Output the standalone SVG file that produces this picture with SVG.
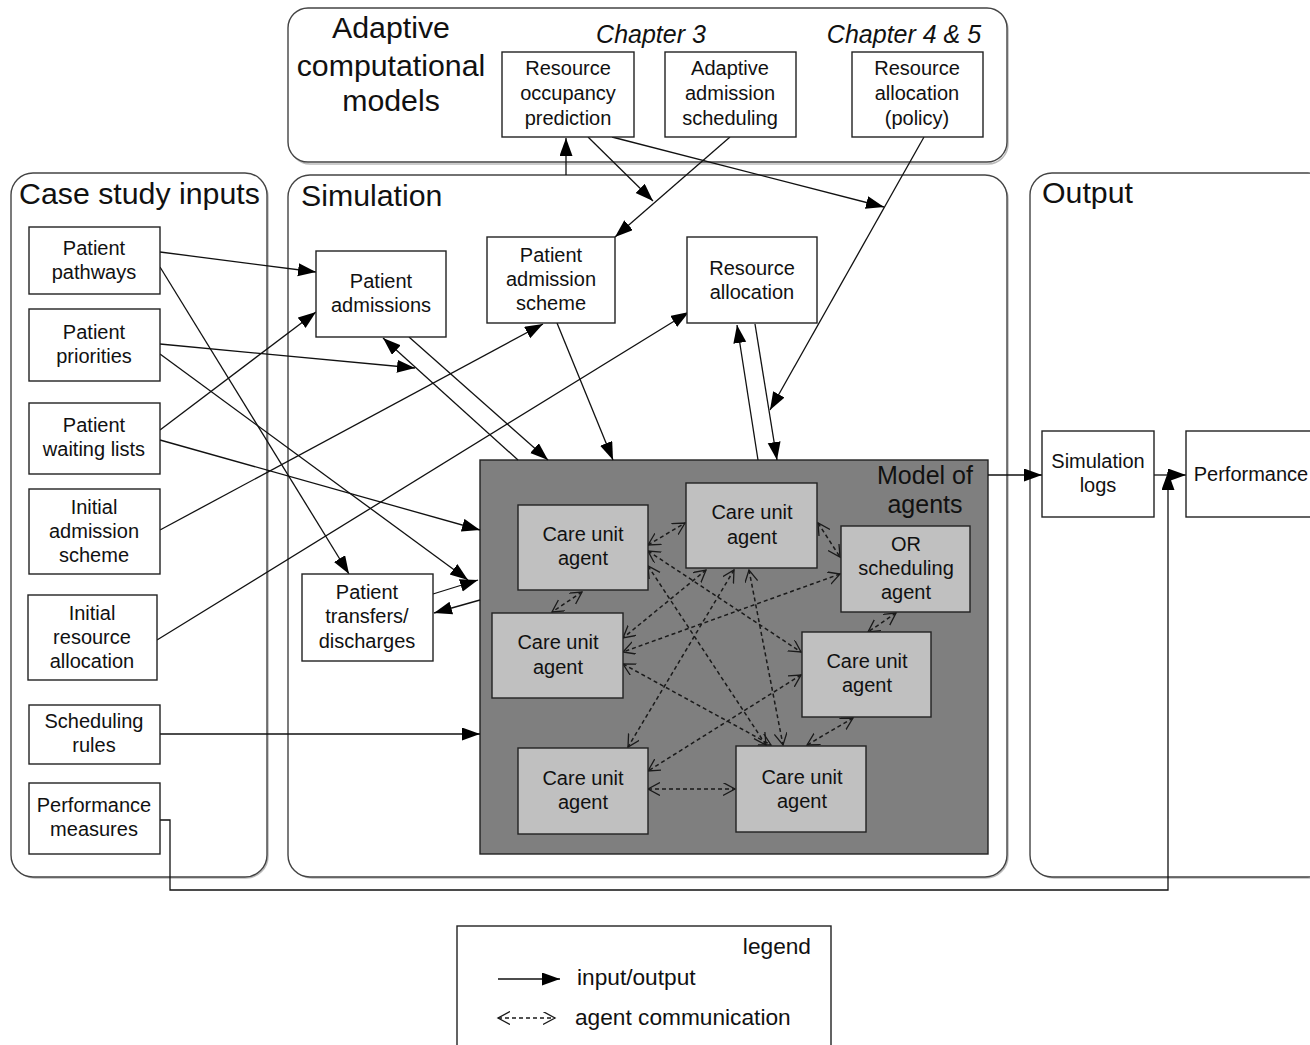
<svg xmlns="http://www.w3.org/2000/svg" width="1310" height="1045" viewBox="0 0 1310 1045">
<defs>
<marker id="ah" markerUnits="userSpaceOnUse" markerWidth="20" markerHeight="14" refX="18" refY="6.5" orient="auto">
<path d="M0,0 L18,6.5 L0,13 z" fill="#000"/>
</marker>
<marker id="oh" markerUnits="userSpaceOnUse" markerWidth="14" markerHeight="14" refX="12" refY="6.5" orient="auto-start-reverse">
<path d="M0,0 L12,6.5 L0,13" fill="none" stroke="#1a1a1a" stroke-width="1.3"/>
</marker>
<style>
.cont{fill:#fff;stroke:#444;stroke-width:1.4}
.contsh{fill:none;stroke:#bbb;stroke-width:1.5}
.box{fill:#fff;stroke:#222;stroke-width:1.4}
.agent{fill:#c0c0c0;stroke:#222;stroke-width:1.4}
.t{font-family:"Liberation Sans",Arial,sans-serif;font-size:20px;fill:#111;text-anchor:middle}
.title{font-family:"Liberation Sans",Arial,sans-serif;font-size:30.3px;fill:#111}
.ch{font-family:"Liberation Sans",Arial,sans-serif;font-size:25px;font-style:italic;fill:#111;text-anchor:middle}
.lg{font-family:"Liberation Sans",Arial,sans-serif;font-size:22.7px;fill:#111}
.io{fill:none;stroke:#111;stroke-width:1.3;marker-end:url(#ah)}
.ac{fill:none;stroke:#1a1a1a;stroke-width:1.5;stroke-dasharray:4 3;marker-start:url(#oh);marker-end:url(#oh)}
</style>
</defs>
<rect width="1310" height="1045" fill="#fff"/>

<g id="containers">
<g id="adaptive">
<rect class="contsh" x="290" y="10" width="718" height="154" rx="20"/>
<rect class="cont" x="288" y="8" width="719" height="154" rx="20"/>
<text class="title" x="391" y="38" text-anchor="middle">Adaptive</text>
<text class="title" x="391" y="76" text-anchor="middle">computational</text>
<text class="title" x="391" y="111" text-anchor="middle">models</text>
<text class="ch" x="651" y="43">Chapter 3</text>
<text class="ch" x="904" y="43">Chapter 4 &amp; 5</text>
</g>
<g id="case-study-inputs">
<rect class="contsh" x="13" y="175" width="255" height="703" rx="22"/>
<rect class="cont" x="11" y="173" width="256" height="704" rx="22"/>
<text class="title" x="19" y="204">Case study inputs</text>
</g>
<g id="simulation">
<rect class="contsh" x="290" y="177" width="718" height="701" rx="22"/>
<rect class="cont" x="288" y="175" width="719" height="702" rx="22"/>
<text class="title" x="301" y="206">Simulation</text>
</g>
<g id="output">
<rect class="contsh" x="1032" y="175" width="300" height="703" rx="22"/>
<rect class="cont" x="1030" y="173" width="300" height="704" rx="22"/>
<text class="title" x="1042" y="203">Output</text>
</g>
</g>

<g id="model-of-agents">
<rect x="480" y="460" width="508" height="394" fill="#7f7f7f" stroke="#222" stroke-width="1.4"/>
<text x="925" y="484" text-anchor="middle" font-family="Liberation Sans, Arial, sans-serif" font-size="25" fill="#111">Model of</text>
<text x="925" y="513" text-anchor="middle" font-family="Liberation Sans, Arial, sans-serif" font-size="25" fill="#111">agents</text>
</g>

<g id="connectors">
<line class="io" x1="566" y1="175" x2="566" y2="138"/>
<line class="io" x1="588" y1="137" x2="653" y2="201"/>
<line class="io" x1="612" y1="137" x2="884" y2="207"/>
<line class="io" x1="730" y1="137" x2="615" y2="237"/>
<line class="io" x1="924" y1="137" x2="770" y2="410"/>
<line class="io" x1="160" y1="252" x2="316" y2="272"/>
<line class="io" x1="160" y1="267" x2="349" y2="574"/>
<line class="io" x1="160" y1="344" x2="415" y2="368"/>
<line class="io" x1="160" y1="354" x2="468" y2="580"/>
<line class="io" x1="160" y1="430" x2="316" y2="312"/>
<line class="io" x1="160" y1="440" x2="480" y2="530"/>
<line class="io" x1="160" y1="530" x2="543" y2="324"/>
<line class="io" x1="157" y1="640" x2="689" y2="312"/>
<line class="io" x1="160" y1="734" x2="480" y2="734"/>
<polyline class="io" points="160,820 170,820 170,890 1168,890 1168,472"/>
<line class="io" x1="518" y1="460" x2="383" y2="338"/>
<line class="io" x1="409" y1="337" x2="548" y2="460"/>
<line class="io" x1="557" y1="323" x2="613" y2="460"/>
<line class="io" x1="758" y1="460" x2="737" y2="325"/>
<line class="io" x1="755" y1="324" x2="777" y2="460"/>
<line class="io" x1="433" y1="594" x2="478" y2="580"/>
<line class="io" x1="480" y1="600" x2="434" y2="613"/>
<line class="io" x1="988" y1="475" x2="1042" y2="475"/>
<line class="io" x1="1154" y1="475" x2="1186" y2="475"/>
<line class="ac" x1="648" y1="545" x2="685" y2="523"/>
<line class="ac" x1="818" y1="523" x2="840" y2="557"/>
<line class="ac" x1="582" y1="592" x2="552" y2="612"/>
<line class="ac" x1="896" y1="613" x2="868" y2="632"/>
<line class="ac" x1="853" y1="718" x2="807" y2="745"/>
<line class="ac" x1="648" y1="789" x2="735" y2="789"/>
<line class="ac" x1="648" y1="551" x2="801" y2="652"/>
<line class="ac" x1="648" y1="566" x2="766" y2="745"/>
<line class="ac" x1="706" y1="570" x2="623" y2="638"/>
<line class="ac" x1="734" y1="570" x2="628" y2="747"/>
<line class="ac" x1="749" y1="570" x2="783" y2="745"/>
<line class="ac" x1="840" y1="574" x2="623" y2="652"/>
<line class="ac" x1="623" y1="664" x2="771" y2="745"/>
<line class="ac" x1="801" y1="675" x2="648" y2="771"/>
</g>

<g id="nodes">
<g id="n-rop"><rect class="box" x="502" y="52" width="132" height="85"/>
<text class="t" x="568" y="75">Resource</text><text class="t" x="568" y="100">occupancy</text><text class="t" x="568" y="125">prediction</text></g>
<g id="n-aas"><rect class="box" x="665" y="52" width="131" height="85"/>
<text class="t" x="730" y="75">Adaptive</text><text class="t" x="730" y="100">admission</text><text class="t" x="730" y="125">scheduling</text></g>
<g id="n-rap"><rect class="box" x="852" y="52" width="131" height="85"/>
<text class="t" x="917" y="75">Resource</text><text class="t" x="917" y="100">allocation</text><text class="t" x="917" y="125">(policy)</text></g>

<g id="n-pathways"><rect class="box" x="29" y="227" width="131" height="67"/>
<text class="t" x="94" y="255">Patient</text><text class="t" x="94" y="279">pathways</text></g>
<g id="n-priorities"><rect class="box" x="29" y="309" width="131" height="72"/>
<text class="t" x="94" y="339">Patient</text><text class="t" x="94" y="363">priorities</text></g>
<g id="n-waiting"><rect class="box" x="29" y="403" width="131" height="71"/>
<text class="t" x="94" y="432">Patient</text><text class="t" x="94" y="456">waiting lists</text></g>
<g id="n-init-adm"><rect class="box" x="29" y="489" width="131" height="85"/>
<text class="t" x="94" y="514">Initial</text><text class="t" x="94" y="538">admission</text><text class="t" x="94" y="562">scheme</text></g>
<g id="n-init-res"><rect class="box" x="28" y="595" width="129" height="85"/>
<text class="t" x="92" y="620">Initial</text><text class="t" x="92" y="644">resource</text><text class="t" x="92" y="668">allocation</text></g>
<g id="n-sched"><rect class="box" x="29" y="705" width="131" height="59"/>
<text class="t" x="94" y="728">Scheduling</text><text class="t" x="94" y="752">rules</text></g>
<g id="n-perf-meas"><rect class="box" x="29" y="783" width="131" height="71"/>
<text class="t" x="94" y="812">Performance</text><text class="t" x="94" y="836">measures</text></g>

<g id="n-admissions"><rect class="box" x="316" y="251" width="130" height="86"/>
<text class="t" x="381" y="288">Patient</text><text class="t" x="381" y="312">admissions</text></g>
<g id="n-adm-scheme"><rect class="box" x="487" y="237" width="128" height="86"/>
<text class="t" x="551" y="262">Patient</text><text class="t" x="551" y="286">admission</text><text class="t" x="551" y="310">scheme</text></g>
<g id="n-res-alloc"><rect class="box" x="687" y="237" width="130" height="86"/>
<text class="t" x="752" y="275">Resource</text><text class="t" x="752" y="299">allocation</text></g>
<g id="n-transfers"><rect class="box" x="302" y="574" width="131" height="87"/>
<text class="t" x="367" y="599">Patient</text><text class="t" x="367" y="623">transfers/</text><text class="t" x="367" y="648">discharges</text></g>

<g id="a1"><rect class="agent" x="518" y="505" width="130" height="85"/>
<text class="t" x="583" y="541">Care unit</text><text class="t" x="583" y="565">agent</text></g>
<g id="a2"><rect class="agent" x="686" y="483" width="131" height="85"/>
<text class="t" x="752" y="519">Care unit</text><text class="t" x="752" y="544">agent</text></g>
<g id="a-or"><rect class="agent" x="841" y="526" width="129" height="86"/>
<text class="t" x="906" y="551">OR</text><text class="t" x="906" y="575">scheduling</text><text class="t" x="906" y="599">agent</text></g>
<g id="a3"><rect class="agent" x="492" y="613" width="131" height="85"/>
<text class="t" x="558" y="649">Care unit</text><text class="t" x="558" y="674">agent</text></g>
<g id="a4"><rect class="agent" x="802" y="632" width="129" height="85"/>
<text class="t" x="867" y="668">Care unit</text><text class="t" x="867" y="692">agent</text></g>
<g id="a5"><rect class="agent" x="518" y="748" width="130" height="86"/>
<text class="t" x="583" y="785">Care unit</text><text class="t" x="583" y="809">agent</text></g>
<g id="a6"><rect class="agent" x="736" y="746" width="130" height="86"/>
<text class="t" x="802" y="784">Care unit</text><text class="t" x="802" y="808">agent</text></g>

<g id="n-simlogs"><rect class="box" x="1042" y="431" width="112" height="86"/>
<text class="t" x="1098" y="468">Simulation</text><text class="t" x="1098" y="492">logs</text></g>
<g id="n-performance"><rect class="box" x="1186" y="431" width="140" height="86"/>
<text class="t" x="1251" y="481">Performance</text></g>
</g>

<g id="legend">
<rect x="457" y="926" width="374" height="130" fill="#fff" stroke="#222" stroke-width="1.4"/>
<text class="lg" x="811" y="954" text-anchor="end">legend</text>
<line class="io" x1="498" y1="979" x2="560" y2="979"/>
<text class="lg" x="577" y="985">input/output</text>
<line class="ac" x1="498" y1="1018" x2="555" y2="1018"/>
<text class="lg" x="575" y="1025">agent communication</text>
</g>
</svg>
